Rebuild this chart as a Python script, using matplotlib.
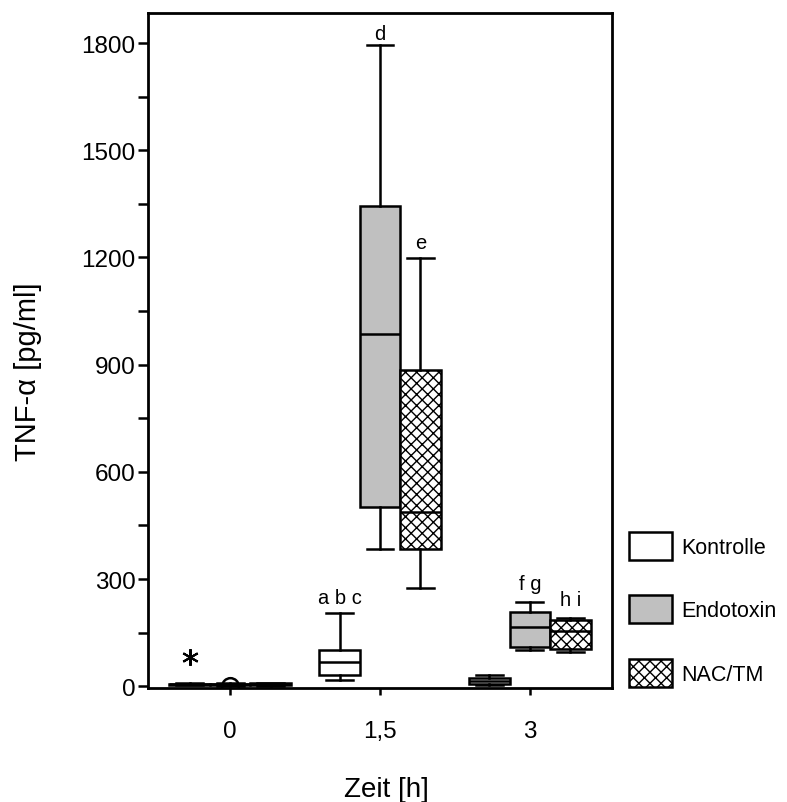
import matplotlib
matplotlib.use("Agg")
import matplotlib.pyplot as plt
from matplotlib.patches import Patch
from matplotlib.ticker import MultipleLocator

plt.rcParams['font.family'] = ['Liberation Sans', 'DejaVu Sans']
plt.rcParams['hatch.linewidth'] = 1.0

time_labels = ["0", "1,5", "3"]
group_names = ["Kontrolle", "Endotoxin", "NAC/TM"]

# (whislo, q1, med, q3, whishi) per time point
kontrolle = [(2, 3, 5, 7, 9), (18, 30, 68, 101, 204), (3, 7, 14, 22, 31)]
endotoxin = [(1, 3, 5, 7, 10), (384, 501, 985, 1344, 1795), (101, 109, 165, 207, 235)]
nac_tm = [(1, 2, 5, 9, 10), (274, 384, 487, 885, 1197), (95, 105, 154, 185, 190)]

kontrolle_fliers = [[81], [], []]
endotoxin_fliers = [[0], [], []]
nac_fliers = [[], [], []]

# significance letters: (time index, group index, text, y)
letters = [(1, 0, "a b c", 232), (1, 1, "d", 1810), (1, 2, "e", 1225),
           (2, 1, "f g", 271), (2, 2, "h i", 227)]

FILLS = ["white", "#c0c0c0", "white"]
HATCHES = [None, None, "xxx"]
OFFSET = 0.27
WIDTH = 0.27


def make_stats(rows, fliers):
    out = []
    for (lo, q1, med, q3, hi), fl in zip(rows, fliers):
        out.append(dict(whislo=lo, q1=q1, med=med, q3=q3, whishi=hi, fliers=fl))
    return out


fig = plt.figure(figsize=(7.87, 8.03), dpi=100)
ax = fig.add_axes([148 / 787, 1 - 689 / 803, (612 - 148) / 787, (689 - 14) / 803])

series = [(kontrolle, kontrolle_fliers), (endotoxin, endotoxin_fliers), (nac_tm, nac_fliers)]
flier_markers = [dict(marker=(6, 2, 0), markersize=12, markeredgecolor='black', markeredgewidth=1.5),
                 dict(marker='o', markersize=12, markerfacecolor='none', markeredgecolor='black', markeredgewidth=1.8),
                 dict(marker='o', markersize=8, markerfacecolor='none', markeredgecolor='black')]

base = [1, 2, 3]
for gi, (rows, fl) in enumerate(series):
    pos = [b + (gi - 1) * OFFSET for b in base]
    res = ax.bxp(make_stats(rows, fl), positions=pos, widths=WIDTH,
                 patch_artist=True, showfliers=True, capwidths=0.18,
                 boxprops=dict(linewidth=1.8, edgecolor='black'),
                 medianprops=dict(linewidth=1.8, color='black'),
                 whiskerprops=dict(linewidth=1.8, color='black'),
                 capprops=dict(linewidth=1.8, color='black'),
                 flierprops=flier_markers[gi])
    for box in res['boxes']:
        box.set_facecolor(FILLS[gi])
        if HATCHES[gi]:
            box.set_hatch(HATCHES[gi])

for ti, gi, txt, y in letters:
    ax.text(base[ti] + (gi - 1) * OFFSET, y, txt, ha='center', va='baseline', fontsize=14.5)

ax.set_xlim(0.453, 3.547)
ax.set_ylim(-5, 1884)
ax.set_xticks(base)
ax.set_xticklabels(time_labels)
ax.yaxis.set_major_locator(MultipleLocator(300))
ax.yaxis.set_minor_locator(MultipleLocator(150))
ax.tick_params(axis='y', which='both', direction='out', length=7, width=1.8, labelsize=17.5, pad=2)
ax.tick_params(axis='x', direction='out', length=5, width=1.8, labelsize=17.5, pad=18)
for sp in ax.spines.values():
    sp.set_linewidth(2)

ax.set_ylabel("TNF-α [pg/ml]", fontsize=21)
ax.yaxis.set_label_coords(-0.228, 0.47)
ax.set_xlabel("Zeit [h]", fontsize=20)
ax.xaxis.set_label_coords(0.513, -0.131)

handles = [Patch(facecolor=FILLS[i], edgecolor='black', linewidth=1.8, hatch=HATCHES[i])
           for i in range(3)]
fig.legend(handles, group_names, loc='upper left', bbox_to_anchor=(629 / 787, 1 - 533 / 803),
           frameon=False, fontsize=15.5, handlelength=2.0, handleheight=1.62,
           labelspacing=1.65, handletextpad=0.45, borderpad=0, borderaxespad=0)

fig.savefig("out.png", dpi=100)
